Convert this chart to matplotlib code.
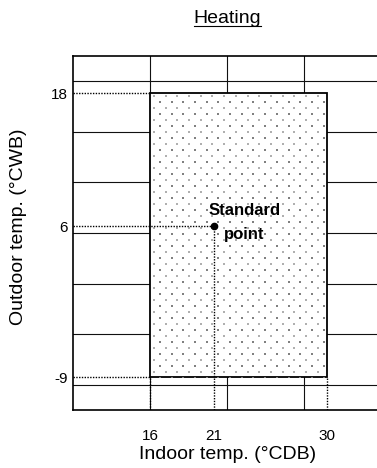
import numpy as np
import matplotlib
matplotlib.use('Agg')
import matplotlib.pyplot as plt
from matplotlib.patches import Rectangle
from matplotlib.lines import Line2D

# operating range for heating
indoor_range = [16, 30]      # °CDB
outdoor_range = [-9, 18]     # °CWB
standard_point = [21, 6]     # (indoor, outdoor)
x_ticks = [16, 21, 30]
y_ticks = [-9, 6, 18]

plt.rcParams['font.family'] = ['Liberation Sans', 'DejaVu Sans']
plt.rcParams['axes.unicode_minus'] = False

fig = plt.figure(figsize=(3.77, 4.68), dpi=100)
ax = fig.add_axes([0.1936, 0.1239, 0.817, 0.7564])

# the y axis of the original diagram is schematic (not linear),
# so the tick values are placed at the fractions
y_frac = [0.0924, 0.5198, 0.8946]

def piecewise(v, xp, fp):
    v = np.asarray(v, dtype=float)
    lo = fp[0] + (v - xp[0]) * (fp[1] - fp[0]) / (xp[1] - xp[0])
    hi = fp[1] + (v - xp[1]) * (fp[2] - fp[1]) / (xp[2] - xp[1])
    return np.where(v < xp[1], lo, hi)

fwd = lambda v: piecewise(v, y_ticks, y_frac)
inv = lambda p: piecewise(p, y_frac, y_ticks)
ax.set_yscale('function', functions=(fwd, inv))
ax.set_ylim(float(inv(0.0)), float(inv(1.0)))
ax.set_xlim(9.87, 34.24)

# decorative grid of the diagram
for f in [0.25, 0.5, 0.75]:
    ax.plot([f, f], [0, 1], transform=ax.transAxes, color='#111111', lw=0.8, zorder=1)
for k in range(7):
    f = (k + 0.5) / 7
    ax.plot([0, 1], [f, f], transform=ax.transAxes, color='#111111', lw=0.8, zorder=1)

# operating area
rect = Rectangle((indoor_range[0], outdoor_range[0]),
                 indoor_range[1] - indoor_range[0],
                 outdoor_range[1] - outdoor_range[0],
                 facecolor='white', edgecolor='black', lw=1.3, zorder=2)
ax.add_patch(rect)

# dotted texture inside the area
W, H = ax.bbox.width, ax.bbox.height
x0, y0 = ax.transAxes.inverted().transform(
    ax.transData.transform((indoor_range[0], outdoor_range[1])))
sx, sy = 11.7 / W, 12 / H
gx = x0 + 3.5 / W + np.arange(17) * sx
gy = y0 - 3 / H - np.arange(26) * sy
GX, GY = np.meshgrid(gx, gy)
light = ax.scatter(GX.ravel(), GY.ravel(), s=0.8, marker='s', color='#b0b0b0',
                   linewidths=0, transform=ax.transAxes, zorder=3)
dark = ax.scatter(GX.ravel() + sx / 2, GY.ravel() - sy / 2, s=2.2, marker='s',
                  color='#808080', linewidths=0, transform=ax.transAxes, zorder=3)
light.set_clip_path(rect)
dark.set_clip_path(rect)

# guide lines to the axes
xl = ax.get_xlim()[0]
yb = ax.get_ylim()[0]
dot = dict(color='black', lw=1.0, ls=(0, (1, 1)), zorder=4)
ax.plot([xl, indoor_range[0]], [outdoor_range[1]] * 2, **dot)
ax.plot([xl, standard_point[0]], [standard_point[1]] * 2, **dot)
ax.plot([xl, indoor_range[0]], [outdoor_range[0]] * 2, **dot)
ax.plot([indoor_range[0]] * 2, [yb, outdoor_range[0]], **dot)
ax.plot([standard_point[0]] * 2, [yb, standard_point[1]], **dot)
ax.plot([indoor_range[1]] * 2, [yb, outdoor_range[0]], **dot)

ax.plot(standard_point[0], standard_point[1], 'o', color='black', ms=4.5, zorder=5)
ax.annotate('Standard', xy=standard_point, xytext=(22.2, 7.9), textcoords='offset points',
            ha='center', va='baseline', fontsize=12, fontweight='bold', zorder=6)
ax.annotate('point', xy=standard_point, xytext=(21.8, -9.7), textcoords='offset points',
            ha='center', va='baseline', fontsize=12, fontweight='bold', zorder=6)

ax.set_xticks(x_ticks)
ax.set_yticks(y_ticks)
ax.minorticks_off()
ax.tick_params(length=0, labelsize=11)
ax.tick_params(axis='x', pad=13.5)
ax.tick_params(axis='y', pad=3.5)
ax.spines['right'].set_visible(False)
for s in ['left', 'top', 'bottom']:
    ax.spines[s].set_linewidth(1.2)

ax.set_xlabel('Indoor temp. (°CDB)', fontsize=14)
ax.xaxis.set_label_coords(0.5016, -0.1017)
ax.set_ylabel('Outdoor temp. (°CWB)', fontsize=14)
ax.yaxis.set_label_coords(-0.149, 0.518)

# underlined title
title = fig.text(0.6034, 1 - 22.7 / 468, 'Heating', ha='center', va='baseline', fontsize=14)
fig.canvas.draw()
bb = title.get_window_extent()
base_y = fig.transFigure.transform((0, 1 - 22.7 / 468))[1]
(ux0, uy), (ux1, _) = fig.transFigure.inverted().transform([(bb.x0, base_y - 2.8), (bb.x1, base_y - 2.8)])
fig.add_artist(Line2D([ux0, ux1], [uy, uy], color='black', lw=0.8, transform=fig.transFigure))

fig.savefig('out.png', dpi=100)
